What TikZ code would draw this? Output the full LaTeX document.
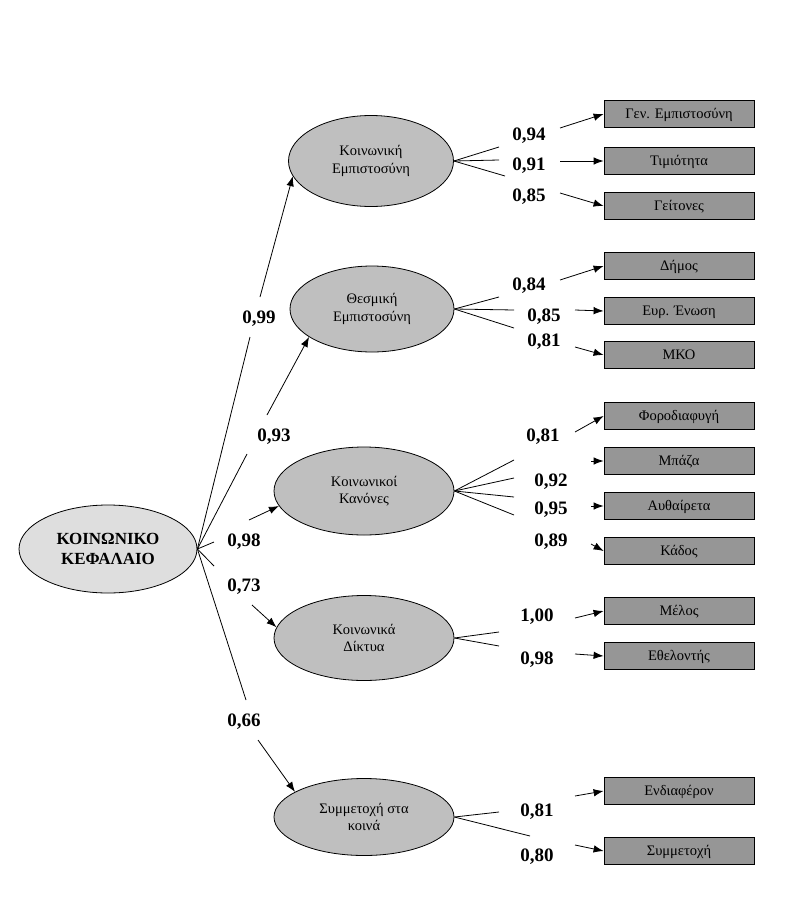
\documentclass[tikz,border=0pt]{standalone}
\usepackage{fontspec}
\setmainfont{Liberation Serif}
\usepackage{xcolor}
\usetikzlibrary{shapes,arrows.meta,positioning}

\definecolor{maingray}{gray}{0.87}
\definecolor{latgray}{gray}{0.75}
\definecolor{boxgray}{gray}{0.59}

\begin{document}
\begin{tikzpicture}[x=1pt, y=-1pt, line width=0.8pt,
    mainvar/.style={ellipse, draw, fill=maingray, minimum width=178, minimum height=88, inner sep=0, align=center, font=\fontsize{17}{20}\selectfont\bfseries},
    lat/.style={ellipse, draw, fill=latgray, minimum width=180, minimum height=88, inner sep=0, align=center, font=\fontsize{14.5}{17.5}\selectfont},
    obs/.style={rectangle, draw, fill=boxgray, minimum width=150, minimum height=27, inner sep=0, text height=10pt, text depth=2pt, font=\fontsize{14.5}{17.5}\selectfont},
    coef/.style={inner sep=0, text depth=0pt, font=\fontsize{19}{22}\selectfont\bfseries},
    arr/.style={-{Latex[length=10pt,width=7.5pt]}}]
    \useasboundingbox (0,0) rectangle (787,905);

    % latent variables
    \node[mainvar] (kk) at (108,549) {ΚΟΙΝΩΝΙΚΟ\\ΚΕΦΑΛΑΙΟ};
    \node[lat, minimum width=165, minimum height=91] (ke) at (371,161) {Κοινωνική\\Εμπιστοσύνη};
    \node[lat, minimum width=164, minimum height=86] (th) at (372,309) {Θεσμική\\Εμπιστοσύνη};
    \node[lat] (kn) at (364,491) {Κοινωνικοί\\Κανόνες};
    \node[lat, minimum height=85] (dk) at (364,638) {Κοινωνικά\\Δίκτυα};
    \node[lat, minimum height=77] (sk) at (364,817) {Συμμετοχή στα\\κοινά};

    % indicators
    \foreach \n/\y/\t in {g1/114/Γεν. Εμπιστοσύνη, g2/161/Τιμιότητα, g3/206/Γείτονες,
        g4/266/Δήμος, g5/311/Ευρ. Ένωση, g6/355/ΜΚΟ,
        g7/416/Φοροδιαφυγή, g8/461/Μπάζα, g9/506/Αυθαίρετα, g10/551/Κάδος,
        g11/611/Μέλος, g12/656/Εθελοντής, g13/791/Ενδιαφέρον, g14/851/Συμμετοχή} {
        \node[obs] (\n) at (679,\y) {\t};
    }

    % loadings
    \foreach \n/\x/\y/\v in {c1/259/317/{0,99}, c2/274/435/{0,93}, c3/244/540/{0,98}, c4/244/585/{0,73}, c5/244/720/{0,66},
        c6/529/134/{0,94}, c7/529/164/{0,91}, c8/529/195/{0,85},
        c9/529/284/{0,84}, c10/544/315/{0,85}, c11/544/340/{0,81},
        c12/543/435/{0,81}, c13/551/480/{0,92}, c14/551/508/{0,95}, c15/551/540/{0,89},
        c16/537/615/{1,00}, c17/537/658/{0,98}, c18/537/810/{0,81}, c19/537/855/{0,80}} {
        \node[coef] (\n) at (\x,\y) {\v};
    }

    % break points round the loadings
    \foreach \n/\x/\y in {a1/250/337, b1/260/297, a2/247/454, b2/267/415, a3/214/542, b3/249/520,
        a4/214/566, b4/252/605, a5/246/700, b5/258/740,
        r1a/499/147, r1b/560/128, r2a/499/160, r2b/560/161, r3a/505/176, r3b/560/193,
        r4a/499/297, r4b/560/280, r5a/514/310, r5b/575/310, r6a/514/328, r6b/575/347,
        r7a/514/460, r7b/575/432, r8a/514/478, r8b/591/461, r9a/514/497, r9b/591/506,
        r10a/514/515, r10b/591/544, r11a/499/632, r11b/575/618, r12a/499/646, r12b/575/654,
        r13a/499/812, r13b/575/796, r14a/530/836, r14b/575/845} {
        \coordinate (\n) at (\x,\y);
    }

    \foreach \s/\a/\b/\t in {kk.east/a1/b1/ke.191, kk.east/a2/b2/th.204, kk.east/a3/b3/kn.190,
        kk.east/a4/b4/dk.173, kk.east/a5/b5/sk.160,
        ke.east/r1a/r1b/g1.west, ke.east/r2a/r2b/g2.west, ke.east/r3a/r3b/g3.west,
        th.east/r4a/r4b/g4.west, th.east/r5a/r5b/g5.west, th.east/r6a/r6b/g6.west,
        kn.east/r7a/r7b/g7.west, kn.east/r8a/r8b/g8.west, kn.east/r9a/r9b/g9.west, kn.east/r10a/r10b/g10.west,
        dk.east/r11a/r11b/g11.west, dk.east/r12a/r12b/g12.west,
        sk.east/r13a/r13b/g13.west, sk.east/r14a/r14b/g14.west} {
        \draw (\s) -- (\a);
        \draw[arr] (\b) -- (\t);
    }
\end{tikzpicture}
\end{document}
